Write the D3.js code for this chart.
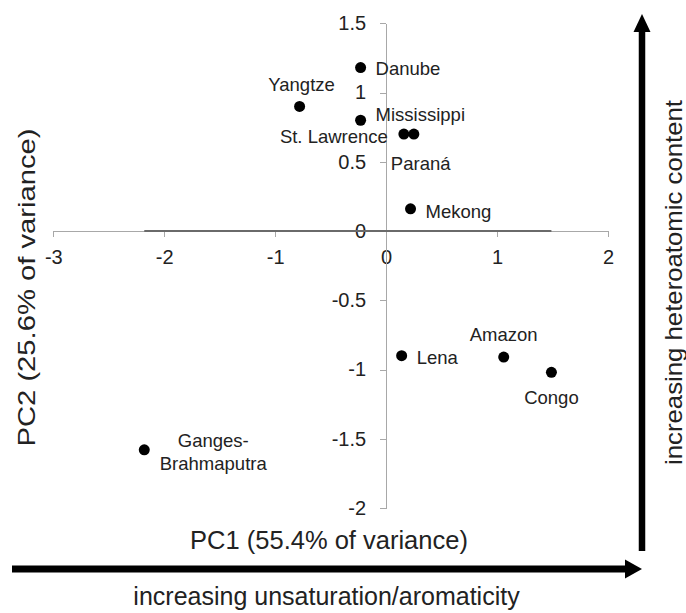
<!DOCTYPE html>
<html>
<head>
<meta charset="utf-8">
<script src="https://cdn.jsdelivr.net/npm/d3@7"></script>
<style>
  html, body { margin: 0; padding: 0; background: #fff; }
  svg { display: block; font-family: "Liberation Sans", Arial, Helvetica, sans-serif; }
  .axis path, .axis line { stroke: #a8a8a8; stroke-width: 1; shape-rendering: crispEdges; }
  .axis text { fill: #222; font-size: 20px; font-family: "Liberation Sans", Arial, sans-serif; }
</style>
</head>
<body>
<svg id="chart" width="686" height="613"></svg>
<script>
// River DOM composition scores on the first two principal components
const rivers = ["Danube", "Yangtze", "Mississippi", "St. Lawrence", "Paraná",
                "Mekong", "Lena", "Amazon", "Congo", "Ganges-Brahmaputra"];
const pc1 = [-0.23, -0.78, -0.23, 0.16, 0.25, 0.22, 0.14, 1.06, 1.49, -2.18];
const pc2 = [1.18, 0.90, 0.80, 0.70, 0.70, 0.16, -0.90, -0.91, -1.02, -1.58];

const xTicks = [-3, -2, -1, 0, 1, 2];
const yTicks = [-2, -1.5, -1, -0.5, 0, 0.5, 1, 1.5];

const xTitle = "PC1 (55.4% of variance)";
const yTitle = "PC2 (25.6% of variance)";
const xArrowText = "increasing unsaturation/aromaticity";
const yArrowText = "increasing heteroatomic content";

const points = rivers.map((name, i) => ({ name, x: pc1[i], y: pc2[i] }));

// label placement relative to each marker (anchor, dx, dy in px)
const labelPlacement = {
  "Danube":             { anchor: "start",  dx: 15,  dy: 7 },
  "Yangtze":            { anchor: "middle", dx: 2,   dy: -15 },
  "Mississippi":        { anchor: "start",  dx: 15,  dy: 1 },
  "St. Lawrence":       { anchor: "end",    dx: -16, dy: 9 },
  "Paraná":             { anchor: "start",  dx: -23, dy: 36 },
  "Mekong":             { anchor: "start",  dx: 15,  dy: 9 },
  "Lena":               { anchor: "start",  dx: 15,  dy: 8 },
  "Amazon":             { anchor: "middle", dx: 0,   dy: -16 },
  "Congo":              { anchor: "middle", dx: 0,   dy: 32 },
  "Ganges-Brahmaputra": { anchor: "middle", dx: 69,  dy: -3, lines: ["Ganges-", "Brahmaputra"] }
};

const svg = d3.select("#chart");

const x = d3.scaleLinear().domain([-3, 2]).range([53.3, 608]);
const y = d3.scaleLinear().domain([-2, 1.5]).range([508, 23.3]);

const fmt = d => String(d);

// horizontal axis through y = 0
const gx = svg.append("g")
  .attr("class", "axis")
  .attr("transform", `translate(0,${y(0)})`)
  .call(d3.axisBottom(x).tickValues(xTicks).tickFormat(fmt).tickSize(6).tickSizeOuter(0).tickPadding(13));

// vertical axis through x = 0
const gy = svg.append("g")
  .attr("class", "axis")
  .attr("transform", `translate(${x(0)},0)`)
  .call(d3.axisLeft(y).tickValues(yTicks).tickFormat(fmt).tickSize(6).tickSizeOuter(0).tickPadding(14));

// darker band of the horizontal axis across the span of the scores
const xExt = d3.extent(points, d => d.x);
svg.append("line")
  .attr("x1", x(xExt[0])).attr("x2", x(xExt[1]))
  .attr("y1", y(0)).attr("y2", y(0))
  .attr("stroke", "#6a6a6a").attr("stroke-width", 2);

// markers
svg.append("g").selectAll("circle")
  .data(points)
  .join("circle")
  .attr("cx", d => x(d.x))
  .attr("cy", d => y(d.y))
  .attr("r", 5.5)
  .attr("fill", "#000");

// labels
const lg = svg.append("g")
  .attr("font-size", "18.5px")
  .attr("fill", "#222");
points.forEach(p => {
  const lp = labelPlacement[p.name];
  const t = lg.append("text")
    .attr("text-anchor", lp.anchor)
    .attr("x", x(p.x) + lp.dx)
    .attr("y", y(p.y) + lp.dy);
  if (lp.lines) {
    lp.lines.forEach((ln, i) => {
      t.append("tspan")
        .attr("x", x(p.x) + lp.dx)
        .attr("dy", i === 0 ? 0 : 23)
        .text(ln);
    });
  } else {
    t.text(p.name);
  }
});

// axis titles
svg.append("text")
  .attr("x", 329).attr("y", 549)
  .attr("text-anchor", "middle")
  .attr("font-size", "25.5px").attr("fill", "#222")
  .text(xTitle);

svg.append("text")
  .attr("transform", "translate(35,287.5) rotate(-90)")
  .attr("text-anchor", "middle")
  .attr("font-size", "24.5px").attr("fill", "#222")
  .attr("textLength", 318).attr("lengthAdjust", "spacingAndGlyphs")
  .text(yTitle);

// direction arrows
const arrowColor = "#000";
// horizontal
svg.append("line")
  .attr("x1", 12).attr("x2", 627)
  .attr("y1", 569).attr("y2", 569)
  .attr("stroke", arrowColor).attr("stroke-width", 7);
svg.append("path")
  .attr("d", "M625,559.5 L642,569 L625,578.5 Z")
  .attr("fill", arrowColor);
// vertical
svg.append("line")
  .attr("x1", 642).attr("x2", 642)
  .attr("y1", 551).attr("y2", 30)
  .attr("stroke", arrowColor).attr("stroke-width", 6.5);
svg.append("path")
  .attr("d", "M633.5,32 L642,14 L650.5,32 Z")
  .attr("fill", arrowColor);

svg.append("text")
  .attr("x", 326.5).attr("y", 605)
  .attr("text-anchor", "middle")
  .attr("font-size", "25px").attr("fill", "#222")
  .text(xArrowText);

svg.append("text")
  .attr("transform", "translate(682,282.5) rotate(-90)")
  .attr("text-anchor", "middle")
  .attr("font-size", "24px").attr("fill", "#222")
  .attr("textLength", 365).attr("lengthAdjust", "spacingAndGlyphs")
  .text(yArrowText);
</script>
</body>
</html>
